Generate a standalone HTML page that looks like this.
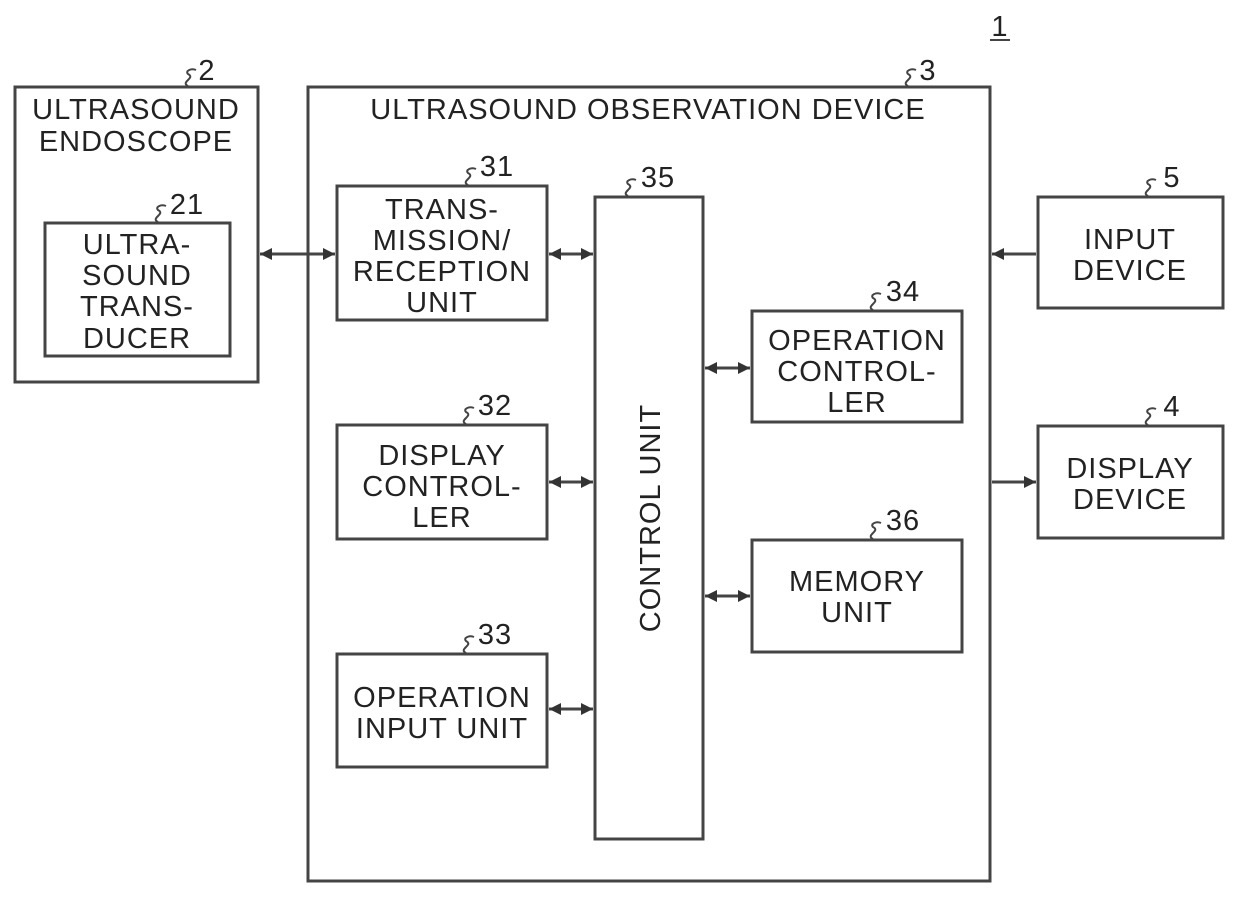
<!DOCTYPE html>
<html><head><style>body{margin:0;background:#fff}svg{display:block}text{font-family:"Liberation Sans",sans-serif;font-size:29px;letter-spacing:1px;fill:#222;text-anchor:middle}</style></head><body>
<svg width="1239" height="897" viewBox="0 0 1239 897">
<defs><marker id="a" viewBox="0 0 10 10" refX="10" refY="5" markerWidth="4" markerHeight="4" orient="auto-start-reverse"><path d="M0,0L10,5L0,10z" fill="#333"/></marker></defs>
<g fill="none" stroke="#444" stroke-width="3">
<rect x="15" y="87" width="243" height="295"/>
<rect x="45" y="223" width="185" height="133"/>
<rect x="308" y="87" width="682" height="794"/>
<rect x="337" y="186" width="210" height="134"/>
<rect x="595" y="197" width="108" height="642"/>
<rect x="337" y="425" width="210" height="114"/>
<rect x="337" y="654" width="210" height="113"/>
<rect x="752" y="311" width="210" height="111"/>
<rect x="752" y="540" width="210" height="112"/>
<rect x="1038" y="197" width="185" height="111"/>
<rect x="1038" y="426" width="185" height="112"/>
<g marker-start="url(#a)" marker-end="url(#a)">
<line x1="260" y1="254" x2="335" y2="254"/>
<line x1="549" y1="254" x2="593" y2="254"/>
<line x1="549" y1="482" x2="593" y2="482"/>
<line x1="549" y1="709" x2="593" y2="709"/>
<line x1="705" y1="368" x2="750" y2="368"/>
<line x1="705" y1="596" x2="750" y2="596"/>
</g>
<line x1="1036" y1="254" x2="992" y2="254" marker-end="url(#a)"/>
<line x1="992" y1="482" x2="1036" y2="482" marker-end="url(#a)"/>
<g stroke-width="2">
<path d="M188,86c-8,-4 8,-8 0,-12 -3,-3 3,-6 8,-4"/>
<path d="M908,86c-8,-4 8,-8 0,-12 -3,-3 3,-6 8,-4"/>
<path d="M158,222c-8,-4 8,-8 0,-12 -3,-3 3,-6 8,-4"/>
<path d="M468,185c-8,-4 8,-8 0,-12 -3,-3 3,-6 8,-4"/>
<path d="M628,196c-8,-4 8,-8 0,-12 -3,-3 3,-6 8,-4"/>
<path d="M873,310c-8,-4 8,-8 0,-12 -3,-3 3,-6 8,-4"/>
<path d="M466,424c-8,-4 8,-8 0,-12 -3,-3 3,-6 8,-4"/>
<path d="M873,539c-8,-4 8,-8 0,-12 -3,-3 3,-6 8,-4"/>
<path d="M466,653c-8,-4 8,-8 0,-12 -3,-3 3,-6 8,-4"/>
<path d="M1148,196c-8,-4 8,-8 0,-12 -3,-3 3,-6 8,-4"/>
<path d="M1148,425c-8,-4 8,-8 0,-12 -3,-3 3,-6 8,-4"/>
<line x1="990" y1="40" x2="1010" y2="40"/>
</g>
</g>
<text x="207" y="80">2</text><text x="928" y="80">3</text><text x="187" y="214">21</text>
<text x="497" y="176">31</text><text x="658" y="187">35</text><text x="903" y="301">34</text>
<text x="495" y="415">32</text><text x="903" y="530">36</text><text x="495" y="644">33</text>
<text x="1172" y="187">5</text><text x="1172" y="416">4</text><text x="1000" y="36">1</text>
<text x="136" y="119">ULTRASOUND</text><text x="136" y="151">ENDOSCOPE</text>
<text x="137" y="254">ULTRA-</text><text x="137" y="285">SOUND</text><text x="137" y="316">TRANS-</text><text x="137" y="348">DUCER</text>
<text x="648" y="119">ULTRASOUND OBSERVATION DEVICE</text>
<text x="442" y="219">TRANS-</text><text x="442" y="250">MISSION/</text><text x="442" y="281">RECEPTION</text><text x="442" y="312">UNIT</text>
<text x="442" y="465">DISPLAY</text><text x="442" y="496">CONTROL-</text><text x="442" y="527">LER</text>
<text x="442" y="707">OPERATION</text><text x="442" y="738">INPUT UNIT</text>
<text x="857" y="350">OPERATION</text><text x="857" y="381">CONTROL-</text><text x="857" y="412">LER</text>
<text x="857" y="591">MEMORY</text><text x="857" y="622">UNIT</text>
<text x="1130" y="249">INPUT</text><text x="1130" y="280">DEVICE</text>
<text x="1130" y="478">DISPLAY</text><text x="1130" y="509">DEVICE</text>
<text transform="translate(660,518) rotate(-90)">CONTROL UNIT</text>
</svg>
</body></html>
